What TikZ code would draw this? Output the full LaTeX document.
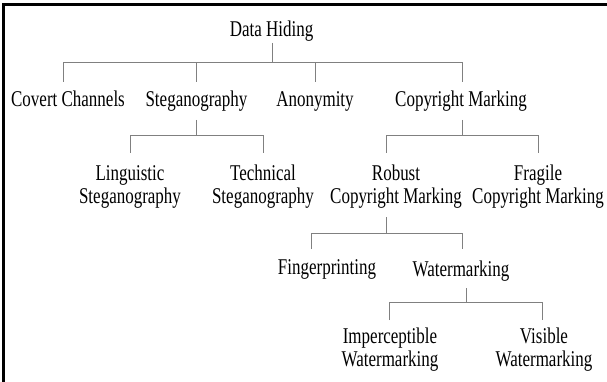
\documentclass[tikz,border=0pt]{standalone}
\usepackage{fontspec}
\setmainfont[FakeStretch=0.755]{Liberation Serif}

\tikzset{
  term/.style={anchor=base, align=center, inner sep=0pt, font=\fontsize{22.5}{23}\selectfont},
  branch/.style={line width=0.9pt, color=black!50},
}

\begin{document}
\begin{tikzpicture}[x=1pt, y=1pt]

 \useasboundingbox (0,-382) rectangle (607,0);

 %%%%%%%%%% Cadre %%%%%%%%%%
 \draw [line width=3pt, miter limit=10] (3.3,-382) -- (3.3,-4.3) -- (607,-4.3);

 %%%%%%%%%% Termes %%%%%%%%%%
 \node [term] (dh) at (271.5,-36.5) {Data Hiding};

 \node [term] (cc) at (68,-106.5) {Covert Channels};
 \node [term] (st) at (196.5,-106.5) {Steganography};
 \node [term] (an) at (315,-106.5) {Anonymity};
 \node [term] (cm) at (461,-106.5) {Copyright Marking};

 \node [term] (ls) at (130,-203.5) {Linguistic\\Steganography};
 \node [term] (ts) at (263,-203.5) {Technical\\Steganography};
 \node [term] (rcm) at (396,-203) {Robust\\Copyright Marking};
 \node [term] (fcm) at (538,-203) {Fragile\\Copyright Marking};

 \node [term] (fp) at (327,-274) {Fingerprinting};
 \node [term] (wm) at (461,-276) {Watermarking};

 \node [term] (iw) at (390,-366.5) {Imperceptible\\Watermarking};
 \node [term] (vw) at (544,-366.5) {Visible\\Watermarking};

 %%%%%%%%%% Points pour les branches %%%%%%%%%%
 \coordinate (dh-s) at (272,-43);
 \coordinate (dh-j) at (272,-62.5);
 \coordinate (cc-n) at (63,-82);
 \coordinate (st-n) at (196,-82);
 \coordinate (an-n) at (315,-82);
 \coordinate (cm-n) at (462,-82);

 \coordinate (st-s) at (196,-120);
 \coordinate (st-j) at (196,-135);
 \coordinate (ls-n) at (130,-153);
 \coordinate (ts-n) at (263,-153);

 \coordinate (cm-s) at (462,-120);
 \coordinate (cm-j) at (462,-135);
 \coordinate (rcm-n) at (386,-153);
 \coordinate (fcm-n) at (538,-153);

 \coordinate (rcm-s) at (386,-217);
 \coordinate (rcm-j) at (386,-233);
 \coordinate (fp-n) at (311,-249);
 \coordinate (wm-n) at (462,-249);

 \coordinate (wm-s) at (466,-288);
 \coordinate (wm-j) at (466,-302);
 \coordinate (iw-n) at (389,-320);
 \coordinate (vw-n) at (542,-320);

 %%%%%%%%%% Branches %%%%%%%%%%
 \draw [branch] (dh-s) -- (dh-j);
 \draw [branch] (cc-n) |- (cm-n |- dh-j) -- (cm-n);
 \draw [branch] (st-n) -- (st-n |- dh-j);
 \draw [branch] (an-n) -- (an-n |- dh-j);

 \draw [branch] (st-s) -- (st-j);
 \draw [branch] (ls-n) |- (ts-n |- st-j) -- (ts-n);

 \draw [branch] (cm-s) -- (cm-j);
 \draw [branch] (rcm-n) |- (fcm-n |- cm-j) -- (fcm-n);

 \draw [branch] (rcm-s) -- (rcm-j);
 \draw [branch] (fp-n) |- (wm-n |- rcm-j) -- (wm-n);

 \draw [branch] (wm-s) -- (wm-j);
 \draw [branch] (iw-n) |- (vw-n |- wm-j) -- (vw-n);

\end{tikzpicture}
\end{document}
